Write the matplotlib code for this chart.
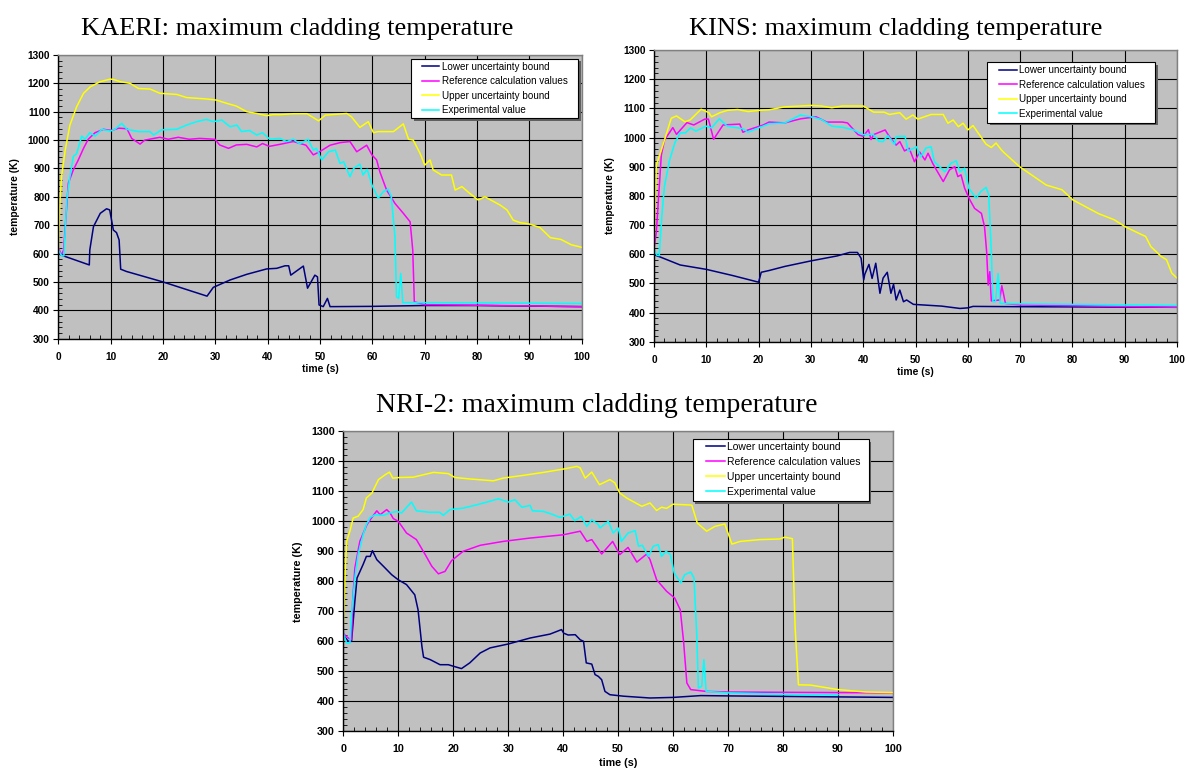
import matplotlib
matplotlib.use("Agg")
import matplotlib.pyplot as plt
from matplotlib.patches import Rectangle
from matplotlib.ticker import MultipleLocator

# ---- KAERI ----
kaeri_low_t = [0, 0.5, 5.9, 6.0, 6.7, 8.0, 9.2, 9.8, 10.5, 11.1, 11.6, 11.9, 13, 20, 28.4, 29.6,
               32.8, 36, 39.8, 41.7, 43.3, 44.0, 44.4, 46.8, 47.6, 49.0, 49.5, 49.8, 50.6, 51.4,
               51.9, 60, 70, 80, 100]
kaeri_low_T = [605, 595, 560, 613, 695, 742, 758, 754, 683, 674, 648, 545, 537, 500, 450, 481,
               507, 527, 546, 548, 557, 557, 524, 556, 478, 524, 518, 419, 413, 442,
               413, 414, 417, 417, 413]
kaeri_ref_t = [0, 0.6, 1.0, 1.9, 2.85, 3.8, 4.8, 5.7, 7.0, 8.6, 10.2, 11.5, 13.1, 14.0, 15.6, 16.5,
               19.4, 21, 22.9, 25, 27, 29.9, 30.8, 32.5, 34, 36, 37.9, 39, 40.3, 42.3, 44.9, 47.3,
               48.7, 49.9, 51.9, 53.8, 55.7, 57.0, 58.9, 59.9, 60.8, 61.4, 62.7, 64.3, 65.9, 67.2,
               67.7, 68.0, 70, 80, 100]
kaeri_ref_T = [620, 595, 613, 848, 895, 930, 971, 1003, 1026, 1038, 1034, 1042, 1040, 1006, 986, 1000,
               1010, 1003, 1010, 1003, 1006, 1003, 983, 971, 983, 985, 976, 988, 978, 985, 995, 982,
               948, 959, 982, 991, 995, 959, 982, 948, 930, 889, 824, 777, 742, 712,
               613, 430, 420, 418, 413]
kaeri_up_t = [0, 0.3, 0.6, 1.3, 2.2, 3.5, 4.8, 6.1, 8.0, 9.9, 10.5, 11.8, 13.7, 15.3, 17.5, 19.4,
              22.6, 24.5, 28.3, 30.2, 32.1, 34.0, 36.0, 37.9, 39.8, 41, 42.5, 44.9, 47.5, 49.7, 51,
              55.1, 56.0, 57.6, 59.2, 60.2, 61, 64.0, 65.9, 66.9, 67.8, 69.1, 70.0, 71.0, 71.6,
              73.2, 75.1, 75.8, 77.1, 78.6, 80.2, 81.5, 84.4, 85.7, 86.9, 88.2, 90, 92, 94, 96,
              98, 100]
kaeri_up_T = [613, 789, 871, 965, 1053, 1118, 1165, 1188, 1206, 1215, 1214, 1206, 1200, 1182, 1180, 1165,
              1161, 1150, 1145, 1141, 1130, 1120, 1100, 1094, 1086, 1090, 1090, 1093, 1093, 1068, 1088,
              1094, 1082, 1045, 1065, 1026, 1030, 1030, 1057, 1003, 1000, 953, 912, 930, 895,
              877, 877, 824, 836, 812, 789, 800, 771, 754, 718, 709, 704, 692, 656, 650,
              631, 622]
kaeri_exp_t = [0, 0.6, 1.05, 1.6, 2.2, 2.85, 3.5, 4.45, 5.1, 6.0, 7.0, 8.3, 9.9, 10.8, 12.1, 13.1,
               15.3, 17.5, 18.2, 19.7, 22.6, 24.5, 26.4, 28.3, 29.6, 31.2, 32.8, 34.1, 35.0, 36.5,
               37.9, 39, 40.4, 42.3, 43.6, 44.9, 46.1, 47.7, 48.7, 49.3, 50.3, 51.6, 52.9, 53.8,
               54.5, 55.7, 56.4, 57.6, 58.2, 59.0, 59.9, 61.1, 62.1, 63.0, 63.6, 64.3, 64.6, 65.0,
               65.4, 65.8, 70, 80, 100]
kaeri_exp_T = [613, 592, 592, 789, 871, 942, 953, 1014, 1003, 1026, 1014, 1038, 1032, 1038, 1059, 1038,
               1030, 1030, 1018, 1036, 1038, 1053, 1065, 1073, 1065, 1071, 1047, 1053, 1030, 1034,
               1018, 1026, 1003, 1006, 995, 1003, 987, 1003, 965, 971, 930, 959, 965, 918,
               924, 871, 900, 915, 877, 897, 842, 795, 819, 827, 801, 660, 448, 442,
               530, 427, 427, 426, 424]

# ---- KINS ----
kins_low_t = [0, 1.1, 5, 10, 15, 20, 20.5, 22, 25, 30, 35, 37.4, 38.9, 39.6, 40.1, 40.3, 41.1, 41.7,
              42.4, 43.2, 43.8, 44.6, 45.3, 45.8, 46.3, 47.0, 47.7, 48.3, 49.6, 55, 58.5, 60, 61,
              70, 100]
kins_low_T = [598, 591, 563, 548, 527, 504, 538, 544, 558, 577, 594, 606, 606, 586, 512, 531, 565, 517,
              569, 466, 518, 538, 466, 497, 443, 477, 437, 443, 428, 422, 414, 416, 421,
              420, 418]
kins_ref_t = [0, 0.45, 1.4, 2.0, 3.6, 4.3, 6.3, 7.6, 9.7, 10.4, 11.4, 13.2, 16.4, 17.0, 18.0, 20.9,
              22, 25, 28, 31, 33, 36, 37, 38, 39, 40, 41, 41.5, 42, 44.2, 45, 46.3, 47.0, 47.9,
              48.8, 49.8, 50.8, 51.8, 52.4, 53.3, 54.0, 55.3, 56.5, 57.5, 58.1, 58.7, 59.4, 60.4,
              61.3, 62.6, 63.2, 63.6, 63.9, 64.2, 64.5, 66.1, 66.5, 67.2, 70, 100]
kins_ref_T = [620, 677, 940, 991, 1034, 1011, 1051, 1043, 1063, 1063, 994, 1043, 1046, 1018, 1026, 1043,
              1053, 1050, 1064, 1071, 1053, 1053, 1050, 1030, 1010, 1004, 1027, 993, 1010, 1026, 1003,
              974, 986, 954, 963, 917, 950, 923, 946, 911, 889, 849, 889, 900, 866, 872, 826, 786,
              757, 740, 694, 609, 494, 540, 440, 443, 492, 431, 426, 418]
kins_up_t = [0, 0.45, 1.1, 2.4, 3.3, 4.3, 5.9, 6.9, 9.0, 10.5, 11, 12.6, 14, 16, 18, 20, 22, 25, 28,
             30, 32, 34, 36, 38, 40, 42, 44, 45, 47, 48.2, 49.5, 50.4, 53, 55.3, 56.2, 57.2, 58.2,
             59.1, 60.0, 61, 62, 63.5, 64.5, 65.4, 66.4, 67, 69.9, 75, 78, 80.1, 85, 88, 90, 93,
             94, 95, 97, 98, 99, 100]
kins_up_T = [630, 906, 940, 1014, 1066, 1074, 1054, 1060, 1097, 1085, 1071, 1085, 1093, 1096, 1089, 1093,
             1095, 1105, 1108, 1110, 1108, 1102, 1108, 1108, 1108, 1087, 1087, 1079, 1085, 1063, 1077,
             1063, 1079, 1079, 1049, 1060, 1037, 1049, 1026, 1041, 1015, 977, 966, 981, 958, 947,
             900, 837, 821, 786, 739, 718, 695, 669, 661, 626, 592, 581, 535, 518]
kins_exp_t = [0, 0.5, 1.0, 1.5, 2, 3, 4, 5, 6, 7, 8, 10, 11, 12.5, 14, 17, 18, 20, 22, 25, 28, 30,
              32, 34, 36, 38, 40, 41.9, 43.0, 43.8, 44.7, 46.0, 46.3, 47.0, 48.0, 48.6, 50.2, 51,
              52, 53.0, 53.6, 55.6, 56.8, 57.8, 58.5, 59.4, 60.2, 61.6, 62.5, 63.5, 64.0, 64.5,
              64.8, 65.3, 65.8, 66.2, 70, 100]
kins_exp_T = [620, 597, 595, 730, 833, 924, 982, 1016, 1016, 1033, 1022, 1039, 1033, 1064, 1039, 1030,
              1018, 1033, 1047, 1050, 1077, 1071, 1062, 1039, 1035, 1027, 1010, 1011, 987, 986, 1007,
              976, 1003, 1004, 1004, 954, 968, 933, 964, 968, 917, 883, 912, 920, 883, 895, 826,
              792, 815, 829, 804, 609, 437, 437, 534, 431, 430, 424]

# ---- NRI-2 ----
nri_low_t = [0, 0.9, 1.5, 2.1, 2.5, 3.6, 4.2, 4.9, 5.3, 6.1, 7.3, 8.8, 10.0, 11.5, 13.0, 13.6, 14.3,
             14.6, 15.8, 17.6, 19.1, 20.0, 21.5, 23.0, 24.9, 26.7, 30.0, 34.0, 37.6, 39.7, 40.1,
             40.9, 42.2, 43.1, 43.7, 44.2, 45.2, 45.8, 46.4, 47.0, 47.6, 48.5, 51, 55.8, 60, 65,
             70, 100]
nri_low_T = [621, 600, 600, 733, 811, 856, 883, 883, 902, 872, 850, 822, 805, 789, 755, 705, 583,
             547, 539, 522, 522, 517, 509, 528, 561, 578, 591, 611, 624, 639, 627,
             621, 622, 605, 600, 528, 524, 489, 483, 472, 433, 422, 417, 411, 413, 419,
             418, 413]
nri_ref_t = [0, 0.9, 1.5, 1.7, 2.1, 3.0, 4.3, 5.2, 6.1, 6.7, 7.9, 8.5, 9.1, 10.0, 11.5, 13.3, 14.9,
             16.1, 17.3, 18.5, 19.7, 21.8, 24.9, 29.1, 33.9, 40.0, 43.1, 44.3, 45.2, 47.0, 49.0,
             50.3, 51.8, 53.4, 55.2, 55.8, 57.0, 58.8, 60.3, 61.3, 61.9, 62.5, 63.2, 66, 70, 100]
nri_ref_T = [626, 611, 605, 733, 844, 933, 989, 1013, 1035, 1022, 1039, 1028, 1009, 1000, 961, 939, 889,
             850, 825, 833, 869, 900, 920, 933, 944, 955, 967, 933, 939, 891, 933,
             889, 913, 864, 891, 872, 805, 767, 744, 705, 600, 461, 439, 433, 431, 428]
nri_up_t = [0, 0.3, 0.6, 1.2, 1.8, 2.7, 3.6, 4.2, 5.2, 6.4, 7.6, 8.4, 9.0, 10.3, 12.7, 16.4, 19.1,
            20.3, 23.1, 27.3, 29.1, 32.7, 36.4, 40.0, 42.5, 43.1, 44.0, 45.2, 46.6, 48.5, 49.4,
            50.3, 51.6, 54.3, 55.8, 57.0, 57.9, 58.8, 60.0, 63.4, 64.4, 66.1, 67.6, 69.4, 70.7,
            72.2, 75.8, 79.4, 80.3, 81.2, 81.7, 82.2, 82.8, 85, 90, 95, 100]
nri_up_T = [644, 811, 933, 967, 1011, 1017, 1039, 1078, 1094, 1139, 1155, 1164, 1144, 1146, 1147, 1163,
            1159, 1146, 1141, 1135, 1144, 1153, 1163, 1174, 1183, 1178, 1144, 1164, 1122, 1139, 1128,
            1094, 1077, 1050, 1061, 1036, 1047, 1043, 1057, 1054, 994, 967, 983, 991, 924,
            933, 939, 941, 947, 944, 942, 644, 455, 454, 439, 431, 429]
nri_exp_t = [0, 0.6, 1.2, 1.5, 2.1, 2.7, 3.6, 4.2, 4.9, 5.8, 7.3, 8.5, 9.7, 10.6, 12.4, 13.3, 15.7,
             17.5, 18.2, 19.4, 21.8, 24.3, 26.1, 28.2, 30.0, 31.2, 32.5, 34.0, 34.4, 36.4, 37.9,
             39.4, 41.2, 42.1, 43.3, 44.3, 45.2, 46.4, 46.7, 48.2, 49.1, 50.0, 50.6, 51.8, 53.1,
             53.7, 54.4, 55.5, 56.4, 57.3, 57.9, 58.7, 59.5, 60.2, 61.4, 62.1, 63.2, 63.8, 64.3,
             64.6, 65.2, 65.6, 66.0, 70, 83, 90]
nri_exp_T = [628, 594, 594, 689, 811, 889, 955, 989, 1013, 1022, 1020, 1028, 1033, 1028, 1064, 1035, 1030,
             1030, 1020, 1039, 1044, 1055, 1064, 1075, 1064, 1072, 1047, 1053, 1035, 1033, 1024,
             1013, 1024, 1002, 1016, 983, 1005, 989, 978, 1000, 961, 978, 933, 961, 969,
             917, 920, 883, 917, 922, 883, 900, 889, 828, 794, 822, 831, 811, 622,
             444, 450, 539, 433, 428, 422, 422]

series_labels = ["Lower uncertainty bound", "Reference calculation values",
                 "Upper uncertainty bound", "Experimental value"]
series_colors = ["#000080", "#FF00FF", "#FFFF00", "#00FFFF"]

W, H = 1185, 769
SANS = "Liberation Sans"
SERIF = "Liberation Serif"

fig = plt.figure(figsize=(W / 100, H / 100), dpi=100)


def draw_panel(box, title, title_pos, curves, legend_box, anchor, s=1.0):
    left, top, right, bottom = box
    aw, ah = right - left, bottom - top
    ax = fig.add_axes([left / W, 1 - bottom / H, aw / W, ah / H])
    ax.set_facecolor("#C0C0C0")

    for (t, T), color, label in zip(curves, series_colors, series_labels):
        ax.plot(t, T, color=color, lw=1.1, label=label)

    ax.set_xlim(0, 100)
    ax.set_ylim(300, 1300)
    ax.xaxis.set_major_locator(MultipleLocator(10))
    ax.xaxis.set_minor_locator(MultipleLocator(2))
    ax.yaxis.set_major_locator(MultipleLocator(100))
    ax.yaxis.set_minor_locator(MultipleLocator(20))
    ax.set_axisbelow(True)
    ax.grid(which="major", color="black", lw=0.8)

    ax.tick_params(which="major", direction="out", length=3.5, width=0.8)
    ax.tick_params(which="minor", direction="in", length=3, width=0.6)
    ax.tick_params(axis="x", which="major", pad=6)
    ax.tick_params(axis="y", which="major", pad=2.5)
    for lab in ax.get_xticklabels() + ax.get_yticklabels():
        lab.set_fontfamily(SANS)
        lab.set_fontweight("bold")
        lab.set_fontsize(7.3 * s)

    for side in ("left", "bottom"):
        ax.spines[side].set_color("black")
        ax.spines[side].set_linewidth(1.0)
    for side in ("top", "right"):
        ax.spines[side].set_color("#808080")
        ax.spines[side].set_linewidth(1.0)

    ax.set_xlabel("time (s)", fontfamily=SANS, fontweight="bold", fontsize=7.4 * s)
    ax.set_ylabel("temperature (K)", fontfamily=SANS, fontweight="bold", fontsize=7.4 * s)
    ax.xaxis.set_label_coords(0.5, -0.088)
    ax.yaxis.set_label_coords(-0.074, 0.5)

    fig.text(title_pos[0] / W, 1 - title_pos[1] / H, title, ha="center", va="baseline",
             fontfamily=SERIF, fontsize=19 * s)

    # legend frame with a drop shadow
    bx0, by0, bx1, by1 = legend_box
    to_ax = lambda px, py: ((px - left) / aw, (bottom - py) / ah)
    x0, y0 = to_ax(bx0, by1)
    x1, y1 = to_ax(bx1, by0)
    sx, sy = 2.5 / aw, 2.5 / ah
    ax.add_patch(Rectangle((x0 + sx, y0 - sy), x1 - x0, y1 - y0, transform=ax.transAxes,
                           facecolor="#606060", edgecolor="none", zorder=3.8, clip_on=False))
    ax.add_patch(Rectangle((x0, y0), x1 - x0, y1 - y0, transform=ax.transAxes,
                           facecolor="white", edgecolor="black", lw=0.8, zorder=4, clip_on=False))
    ax.legend(loc="upper left", bbox_to_anchor=to_ax(*anchor), frameon=False,
              borderpad=0, borderaxespad=0, handlelength=1.8, handletextpad=0.25,
              labelspacing=0.47, prop={"family": SANS, "size": 7.1 * s})
    return ax


draw_panel((58.4, 55, 581.8, 338.7), "KAERI: maximum cladding temperature", (297, 35),
           [(kaeri_low_t, kaeri_low_T), (kaeri_ref_t, kaeri_ref_T),
            (kaeri_up_t, kaeri_up_T), (kaeri_exp_t, kaeri_exp_T)],
           (411, 59, 578, 118), (421.7, 61.5))
draw_panel((654, 50, 1177, 341.7), "KINS: maximum cladding temperature", (896, 35),
           [(kins_low_t, kins_low_T), (kins_ref_t, kins_ref_T),
            (kins_up_t, kins_up_T), (kins_exp_t, kins_exp_T)],
           (987, 62, 1155, 122.5), (999, 65))
draw_panel((343.3, 431.3, 893, 731.3), "NRI-2: maximum cladding temperature", (597, 411.7),
           [(nri_low_t, nri_low_T), (nri_ref_t, nri_ref_T),
            (nri_up_t, nri_up_T), (nri_exp_t, nri_exp_T)],
           (693, 439, 869, 501), (706, 442), s=1.05)

fig.savefig("out.png", dpi=100, facecolor="white")
